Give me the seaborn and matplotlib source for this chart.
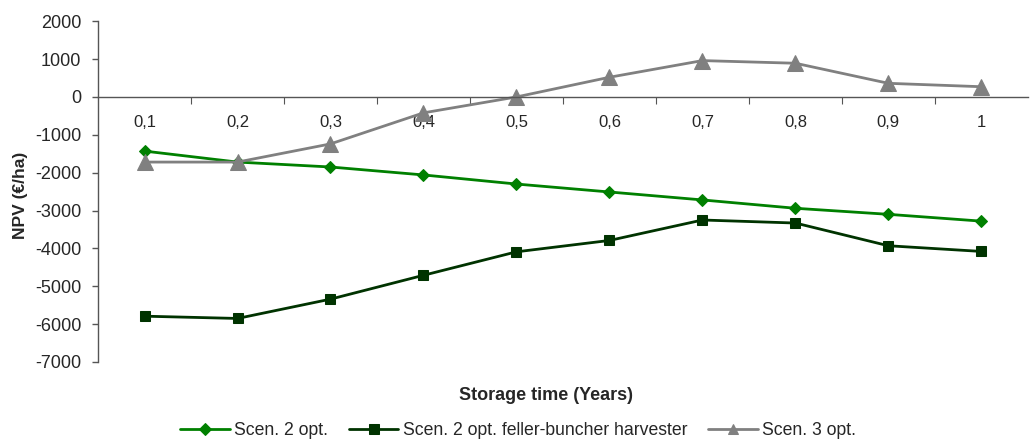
import matplotlib
matplotlib.use("Agg")
import matplotlib.pyplot as plt
import numpy as np
import pandas as pd
import seaborn as sns

# storage time categories
storage_time = ["0,1", "0,2", "0,3", "0,4", "0,5", "0,6", "0,7", "0,8", "0,9", "1"]

# NPV (EUR/ha)
scen2_opt = [-1430, -1720, -1850, -2060, -2300, -2510, -2720, -2940, -3100, -3280]
scen2_feller = [-5790, -5850, -5340, -4710, -4090, -3790, -3250, -3330, -3930, -4080]
scen3_opt = [-1720, -1720, -1240, -420, 0, 520, 960, 890, 360, 270]

series_names = ["Scen. 2 opt.", "Scen. 2 opt. feller-buncher harvester", "Scen. 3 opt."]
colors = ["#008000", "#003300", "#808080"]
markers = ["D", "s", "^"]
marker_sizes = [6, 7, 12]
legend_marker_sizes = [6, 7, 7]

sns.set_style("white")
plt.rcParams["font.family"] = ["Liberation Sans", "DejaVu Sans"]
plt.rcParams["axes.unicode_minus"] = False

frames = []
for name, vals in zip(series_names, [scen2_opt, scen2_feller, scen3_opt]):
    frames.append(pd.DataFrame({"pos": np.arange(len(storage_time)), "npv": vals, "series": name}))
df = pd.concat(frames, ignore_index=True)

fig = plt.figure(figsize=(10.32, 4.42), dpi=100)
ax = fig.add_axes([0.095, 0.181, 0.901, 0.771])

for name, color, mk, ms in zip(series_names, colors, markers, marker_sizes):
    sub = df[df["series"] == name]
    sns.lineplot(data=sub, x="pos", y="npv", ax=ax, color=color, marker=mk,
                 markersize=ms, markeredgecolor=color, linewidth=2, label=name)

ax.set_xlim(-0.5, len(storage_time) - 0.5)
ax.set_ylim(-7000, 2000)
ax.set_yticks(np.arange(-7000, 2001, 1000))
ax.tick_params(axis="y", labelsize=13, length=4, width=1, pad=8, direction="out",
               left=True, color="#555555")

# x axis crosses at zero, ticks at category boundaries, labels at centres
ax.spines["bottom"].set_position(("data", 0))
ax.spines["top"].set_visible(False)
ax.spines["right"].set_visible(False)
for s in ["left", "bottom"]:
    ax.spines[s].set_color("#555555")
    ax.spines[s].set_linewidth(1)
ax.set_xticks(np.arange(0.5, len(storage_time) - 0.5, 1))
ax.set_xticklabels([])
ax.tick_params(axis="x", which="major", length=5, direction="out", bottom=True, color="#555555")
ax.set_xticks(np.arange(len(storage_time)), minor=True)
ax.set_xticklabels(storage_time, minor=True)
ax.tick_params(axis="x", which="minor", length=0, labelsize=12, pad=13)

ax.set_xlabel("")
ax.set_ylabel("")
fig.text(0.0194, 0.559, "NPV (€/ha)", rotation=90, ha="center", va="center",
         fontsize=12.5, fontweight="bold")
fig.text(0.529, 0.105, "Storage time (Years)", ha="center", va="center",
         fontsize=13, fontweight="bold")

leg = ax.legend(loc="center", bbox_to_anchor=(0.502, 0.025), bbox_transform=fig.transFigure,
                ncol=3, frameon=False, fontsize=12.7, handlelength=2.8, columnspacing=1.2,
                handletextpad=0.23)
for handle, ms in zip(leg.legend_handles, legend_marker_sizes):
    handle.set_markersize(ms)

fig.savefig("out.png", dpi=100)
